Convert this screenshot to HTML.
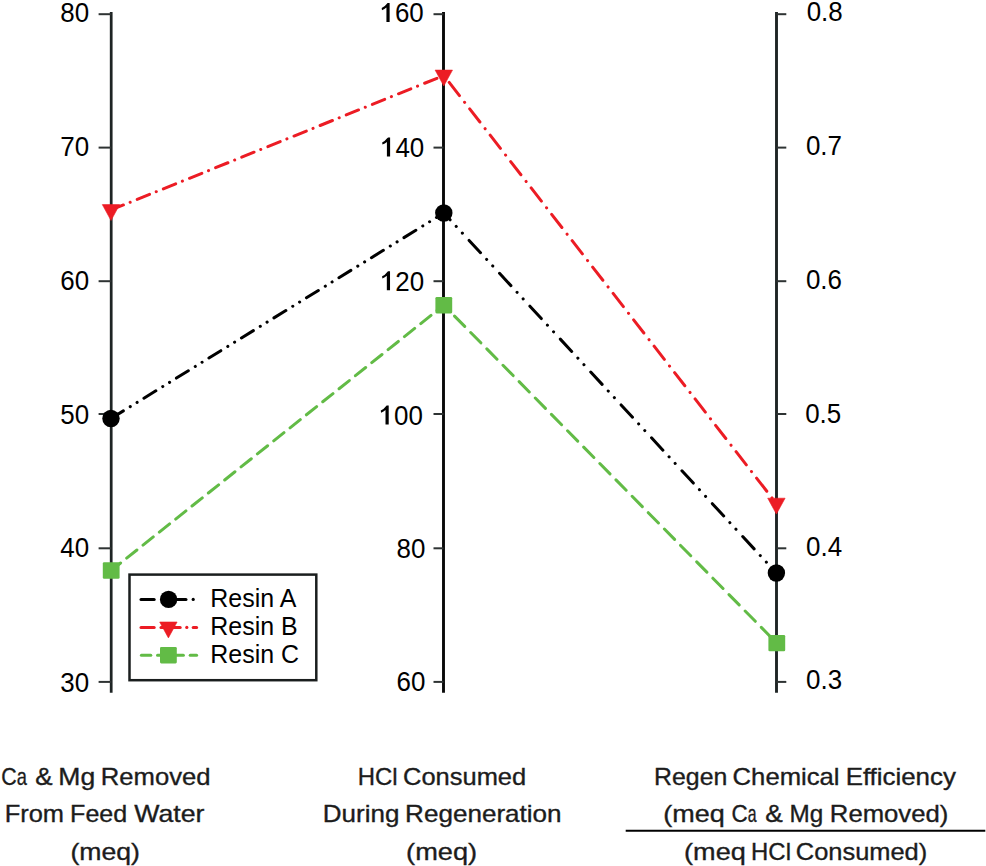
<!DOCTYPE html>
<html><head><meta charset="utf-8"><style>
html,body{margin:0;padding:0;background:#fff;}
svg{display:block;}
.tk{font-family:"Liberation Sans",sans-serif;font-size:27.6px;fill:#000;}
.lg{font-family:"Liberation Sans",sans-serif;font-size:25.7px;fill:#000;}
.bl{font-family:"Liberation Sans",sans-serif;font-size:24px;fill:#1c1c1c;stroke:#1c1c1c;stroke-width:0.35px;}
</style></head><body>
<svg width="986" height="866" viewBox="0 0 986 866">
<line x1="111.2" y1="12.0" x2="111.2" y2="692.7" stroke="#1e2424" stroke-width="2.75"/>
<line x1="98.60000000000001" y1="14.2" x2="111.2" y2="14.2" stroke="#2e3333" stroke-width="2"/>
<line x1="98.60000000000001" y1="147.6" x2="111.2" y2="147.6" stroke="#2e3333" stroke-width="2"/>
<line x1="98.60000000000001" y1="281.2" x2="111.2" y2="281.2" stroke="#2e3333" stroke-width="2"/>
<line x1="98.60000000000001" y1="414.0" x2="111.2" y2="414.0" stroke="#2e3333" stroke-width="2"/>
<line x1="98.60000000000001" y1="548.3" x2="111.2" y2="548.3" stroke="#2e3333" stroke-width="2"/>
<line x1="98.60000000000001" y1="681.9" x2="111.2" y2="681.9" stroke="#2e3333" stroke-width="2"/>
<line x1="443.5" y1="12.0" x2="443.5" y2="692.7" stroke="#080808" stroke-width="2.9"/>
<line x1="433.5" y1="14.2" x2="443.5" y2="14.2" stroke="#2e3333" stroke-width="2"/>
<line x1="433.5" y1="147.6" x2="443.5" y2="147.6" stroke="#2e3333" stroke-width="2"/>
<line x1="433.5" y1="281.2" x2="443.5" y2="281.2" stroke="#2e3333" stroke-width="2"/>
<line x1="433.5" y1="414.0" x2="443.5" y2="414.0" stroke="#2e3333" stroke-width="2"/>
<line x1="433.5" y1="548.3" x2="443.5" y2="548.3" stroke="#2e3333" stroke-width="2"/>
<line x1="433.5" y1="681.9" x2="443.5" y2="681.9" stroke="#2e3333" stroke-width="2"/>
<line x1="776.5" y1="12.0" x2="776.5" y2="692.7" stroke="#1e2424" stroke-width="2.9"/>
<line x1="776.5" y1="14.2" x2="786.3" y2="14.2" stroke="#2e3333" stroke-width="2"/>
<line x1="776.5" y1="147.6" x2="786.3" y2="147.6" stroke="#2e3333" stroke-width="2"/>
<line x1="776.5" y1="281.2" x2="786.3" y2="281.2" stroke="#2e3333" stroke-width="2"/>
<line x1="776.5" y1="414.0" x2="786.3" y2="414.0" stroke="#2e3333" stroke-width="2"/>
<line x1="776.5" y1="548.3" x2="786.3" y2="548.3" stroke="#2e3333" stroke-width="2"/>
<line x1="776.5" y1="681.9" x2="786.3" y2="681.9" stroke="#2e3333" stroke-width="2"/>
<text transform="translate(89.11,21.84) scale(0.94,1)" text-anchor="end" class="tk">80</text>
<text transform="translate(89.11,156.48) scale(0.94,1)" text-anchor="end" class="tk">70</text>
<text transform="translate(89.11,290.24) scale(0.94,1)" text-anchor="end" class="tk">60</text>
<text transform="translate(89.11,423.52) scale(0.94,1)" text-anchor="end" class="tk">50</text>
<text transform="translate(89.11,557.36) scale(0.94,1)" text-anchor="end" class="tk">40</text>
<text transform="translate(89.11,691.52) scale(0.94,1)" text-anchor="end" class="tk">30</text>
<text transform="translate(423.78,22.36) scale(0.94,1)" text-anchor="end" class="tk">60</text>
<path d="M386.43,4.16 L387.58,2.96 L389.63,2.96 L389.63,21.96 L386.43,21.96 L386.43,7.56 Q384.58,9.16 381.98,10.16 L381.68,7.96 Q384.78,6.56 386.43,4.16 Z" fill="#000"/>
<text transform="translate(424.26,156.80) scale(0.94,1)" text-anchor="end" class="tk">40</text>
<path d="M386.91,138.60 L388.06,137.40 L390.11,137.40 L390.11,156.40 L386.91,156.40 L386.91,142.00 Q385.06,143.60 382.46,144.60 L382.16,142.40 Q385.26,141.00 386.91,138.60 Z" fill="#000"/>
<text transform="translate(424.18,290.60) scale(0.94,1)" text-anchor="end" class="tk">20</text>
<path d="M386.83,272.40 L387.98,271.20 L390.03,271.20 L390.03,290.20 L386.83,290.20 L386.83,275.80 Q384.98,277.40 382.38,278.40 L382.08,276.20 Q385.18,274.80 386.83,272.40 Z" fill="#000"/>
<text transform="translate(422.86,424.84) scale(0.94,1)" text-anchor="end" class="tk">00</text>
<path d="M385.51,406.64 L386.66,405.44 L388.71,405.44 L388.71,424.44 L385.51,424.44 L385.51,410.04 Q383.66,411.64 381.06,412.64 L380.76,410.44 Q383.86,409.04 385.51,406.64 Z" fill="#000"/>
<text transform="translate(425.46,557.68) scale(0.94,1)" text-anchor="end" class="tk">80</text>
<text transform="translate(425.46,690.60) scale(0.94,1)" text-anchor="end" class="tk">60</text>
<text transform="translate(806.66,20.57) scale(0.94,1)" class="tk">0.8</text>
<text transform="translate(805.94,155.21) scale(0.94,1)" class="tk">0.7</text>
<text transform="translate(805.94,289.05) scale(0.94,1)" class="tk">0.6</text>
<text transform="translate(805.14,423.49) scale(0.94,1)" class="tk">0.5</text>
<text transform="translate(806.02,556.25) scale(0.94,1)" class="tk">0.4</text>
<text transform="translate(806.02,688.89) scale(0.94,1)" class="tk">0.3</text>
<line x1="111.2" y1="570.5" x2="443.8" y2="305.2" stroke="#62bb46" stroke-width="3" stroke-dasharray="13.10 7.80" stroke-dashoffset="1.1" stroke-linecap="round"/>
<line x1="443.8" y1="305.2" x2="776.8" y2="643.1" stroke="#62bb46" stroke-width="3" stroke-dasharray="14.50 8.50" stroke-dashoffset="7.7" stroke-linecap="round"/>
<line x1="111.0" y1="418.5" x2="443.8" y2="213.0" stroke="#000" stroke-width="3" stroke-dasharray="14.00 8.10 0.10 7.90 0.10 8.00" stroke-dashoffset="37.7" stroke-linecap="round"/>
<line x1="443.8" y1="213.0" x2="776.4" y2="573.0" stroke="#000" stroke-width="3" stroke-dasharray="16.80 9.00 0.10 8.90 0.10 9.90" stroke-dashoffset="7.5" stroke-linecap="round"/>
<line x1="111.0" y1="210.0" x2="443.8" y2="75.5" stroke="#ec1c24" stroke-width="3" stroke-dasharray="13.30 7.20 0.10 7.58" stroke-dashoffset="28.08" stroke-linecap="round"/>
<line x1="443.8" y1="75.5" x2="776.4" y2="503.6" stroke="#ec1c24" stroke-width="3" stroke-dasharray="16.70 8.40 0.10 8.20" stroke-dashoffset="24.6" stroke-linecap="round"/>
<rect x="102.80" y="562.30" width="16.8" height="16.4" rx="1.3" fill="#62bb46"/>
<rect x="435.40" y="297.00" width="16.8" height="16.4" rx="1.3" fill="#62bb46"/>
<rect x="768.40" y="634.90" width="16.8" height="16.4" rx="1.3" fill="#62bb46"/>
<circle cx="111.0" cy="418.5" r="8.7" fill="#000"/>
<circle cx="443.8" cy="213.0" r="8.7" fill="#000"/>
<circle cx="776.4" cy="573.0" r="8.7" fill="#000"/>
<polygon points="102.30,204.60 119.70,204.60 111.00,220.50" fill="#ec1c24" stroke="#ec1c24" stroke-width="0.6" stroke-linejoin="round"/>
<polygon points="435.10,70.10 452.50,70.10 443.80,86.00" fill="#ec1c24" stroke="#ec1c24" stroke-width="0.6" stroke-linejoin="round"/>
<polygon points="767.70,498.20 785.10,498.20 776.40,514.10" fill="#ec1c24" stroke="#ec1c24" stroke-width="0.6" stroke-linejoin="round"/>
<rect x="129.5" y="574.6" width="186.8" height="105.6" fill="#fff" stroke="#1a1e1e" stroke-width="2.5"/>
<line x1="141" y1="599.4" x2="154.2" y2="599.4" stroke="#000" stroke-width="3" stroke-linecap="round"/>
<line x1="171" y1="599.4" x2="186" y2="599.4" stroke="#000" stroke-width="3" stroke-linecap="round"/>
<circle cx="193.2" cy="599.4" r="1.6" fill="#000"/>
<circle cx="168.6" cy="599.4" r="8.7" fill="#000"/>
<line x1="141" y1="627.4" x2="154.2" y2="627.4" stroke="#ec1c24" stroke-width="3" stroke-linecap="round"/>
<line x1="161" y1="627.4" x2="180.2" y2="627.4" stroke="#ec1c24" stroke-width="3" stroke-linecap="round"/>
<circle cx="186.8" cy="627.4" r="1.6" fill="#ec1c24"/>
<line x1="193.2" y1="627.4" x2="196.6" y2="627.4" stroke="#ec1c24" stroke-width="3" stroke-linecap="round"/>
<polygon points="159.70,622.00 177.10,622.00 168.40,637.90" fill="#ec1c24" stroke="#ec1c24" stroke-width="0.6" stroke-linejoin="round"/>
<line x1="141.4" y1="655.2" x2="150.8" y2="655.2" stroke="#62bb46" stroke-width="3" stroke-linecap="round"/>
<line x1="157.5" y1="655.2" x2="160" y2="655.2" stroke="#62bb46" stroke-width="3" stroke-linecap="round"/>
<line x1="170" y1="655.2" x2="183.4" y2="655.2" stroke="#62bb46" stroke-width="3" stroke-linecap="round"/>
<line x1="190.2" y1="655.2" x2="196.6" y2="655.2" stroke="#62bb46" stroke-width="3" stroke-linecap="round"/>
<rect x="160.00" y="647.00" width="16.8" height="16.4" rx="1.3" fill="#62bb46"/>
<text transform="translate(210.3,606.7) scale(0.971,1)" class="lg">Resin A</text>
<text transform="translate(210.3,634.7) scale(0.971,1)" class="lg">Resin B</text>
<text transform="translate(210.3,662.5) scale(0.971,1)" class="lg">Resin C</text>
<text x="1.15" y="784.5" class="bl" textLength="15.45" lengthAdjust="spacingAndGlyphs">C</text>
<text x="16.80" y="784.5" class="bl" textLength="10.15" lengthAdjust="spacingAndGlyphs">a</text>
<text x="35.15" y="784.5" class="bl" textLength="17.35" lengthAdjust="spacingAndGlyphs">&amp;</text>
<text x="58.30" y="784.5" class="bl" textLength="36.85" lengthAdjust="spacingAndGlyphs">Mg</text>
<text x="100.85" y="784.5" class="bl" textLength="109.70" lengthAdjust="spacingAndGlyphs">Removed</text>
<text x="4.65" y="822.2" class="bl" textLength="59.35" lengthAdjust="spacingAndGlyphs">From</text>
<text x="70.10" y="822.2" class="bl" textLength="57.10" lengthAdjust="spacingAndGlyphs">Feed</text>
<text x="134.30" y="822.2" class="bl" textLength="70.20" lengthAdjust="spacingAndGlyphs">Water</text>
<text x="70.45" y="859.8" class="bl" textLength="69.50" lengthAdjust="spacingAndGlyphs">(meq)</text>
<text x="357.70" y="784.5" class="bl" textLength="39.85" lengthAdjust="spacingAndGlyphs">HCl</text>
<text x="403.05" y="784.5" class="bl" textLength="123.10" lengthAdjust="spacingAndGlyphs">Consumed</text>
<text x="322.85" y="822.2" class="bl" textLength="76.50" lengthAdjust="spacingAndGlyphs">During</text>
<text x="405.10" y="822.2" class="bl" textLength="156.50" lengthAdjust="spacingAndGlyphs">Regeneration</text>
<text x="406.10" y="859.8" class="bl" textLength="71.05" lengthAdjust="spacingAndGlyphs">(meq)</text>
<text x="654.10" y="784.5" class="bl" textLength="73.25" lengthAdjust="spacingAndGlyphs">Regen</text>
<text x="732.60" y="784.5" class="bl" textLength="106.95" lengthAdjust="spacingAndGlyphs">Chemical</text>
<text x="845.65" y="784.5" class="bl" textLength="110.25" lengthAdjust="spacingAndGlyphs">Efficiency</text>
<text x="663.25" y="822.2" class="bl" textLength="61.50" lengthAdjust="spacingAndGlyphs">(meq</text>
<text x="731.40" y="822.2" class="bl" textLength="16.20" lengthAdjust="spacingAndGlyphs">C</text>
<text x="747.75" y="822.2" class="bl" textLength="8.80" lengthAdjust="spacingAndGlyphs">a</text>
<text x="765.35" y="822.2" class="bl" textLength="17.55" lengthAdjust="spacingAndGlyphs">&amp;</text>
<text x="789.50" y="822.2" class="bl" textLength="33.70" lengthAdjust="spacingAndGlyphs">Mg</text>
<text x="829.85" y="822.2" class="bl" textLength="118.50" lengthAdjust="spacingAndGlyphs">Removed)</text>
<text x="684.05" y="859.8" class="bl" textLength="61.75" lengthAdjust="spacingAndGlyphs">(meq</text>
<text x="751.10" y="859.8" class="bl" textLength="39.85" lengthAdjust="spacingAndGlyphs">HCl</text>
<text x="795.80" y="859.8" class="bl" textLength="131.40" lengthAdjust="spacingAndGlyphs">Consumed)</text>
<line x1="625.7" y1="830.7" x2="985.3" y2="830.7" stroke="#000" stroke-width="2"/>
</svg>
</body></html>
